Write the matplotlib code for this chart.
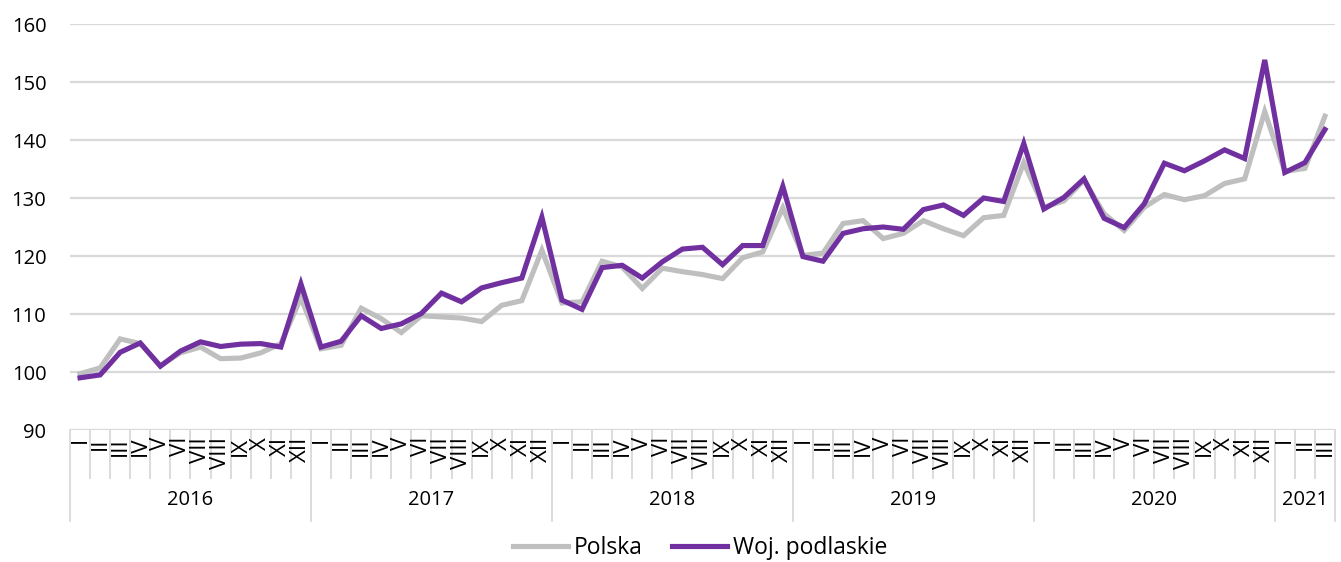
import matplotlib
matplotlib.use("Agg")
import matplotlib.pyplot as plt
import matplotlib.transforms as mtransforms

plt.rcParams['font.family'] = ['Open Sans', 'DejaVu Sans']

months = ["I", "II", "III", "IV", "V", "VI", "VII", "VIII", "IX", "X", "XI", "XII"]
years = ["2016", "2017", "2018", "2019", "2020", "2021"]
months_per_year = [12, 12, 12, 12, 12, 3]

polska = [
    99.7, 100.7, 105.7, 104.9, 101.1, 103.3, 104.3, 102.3, 102.4, 103.3, 104.9, 112.8,
    104.0, 104.6, 111.0, 109.2, 106.8, 109.7, 109.5, 109.3, 108.7, 111.5, 112.3, 121.0,
    111.9, 112.1, 119.1, 118.1, 114.4, 117.9, 117.3, 116.8, 116.1, 119.7, 120.7, 128.3,
    120.1, 120.5, 125.6, 126.1, 123.0, 123.9, 126.1, 124.7, 123.5, 126.6, 127.0, 136.1,
    128.4, 129.5, 133.1, 127.3, 124.4, 128.4, 130.6, 129.7, 130.4, 132.5, 133.3, 144.9,
    134.6, 135.1, 144.1,
]
podlaskie = [
    99.0, 99.5, 103.4, 105.0, 101.0, 103.6, 105.2, 104.4, 104.8, 104.9, 104.3, 115.2,
    104.3, 105.3, 109.7, 107.5, 108.3, 110.1, 113.6, 112.1, 114.5, 115.4, 116.2, 126.7,
    112.4, 110.8, 118.0, 118.4, 116.2, 119.0, 121.2, 121.5, 118.5, 121.8, 121.8, 132.0,
    119.9, 119.1, 123.9, 124.7, 125.0, 124.6, 128.0, 128.8, 127.0, 130.0, 129.4, 139.4,
    128.1, 130.1, 133.3, 126.5, 124.9, 129.0, 136.0, 134.7, 136.4, 138.3, 136.8, 153.8,
    134.4, 136.1, 141.8,
]

W, H = 1341, 562
fig = plt.figure(figsize=(W / 100, H / 100), dpi=100)
ax = fig.add_axes([70 / W, (H - 430) / H, 1265 / W, 406 / H])

n = len(polska)
x = list(range(n))
grid_c = "#d9d9d9"

ax.plot(x, polska, color="#bfbfbf", lw=3.7, solid_joinstyle="miter", label="Polska", zorder=3)
ax.plot(x, podlaskie, color="#7030a0", lw=3.7, solid_joinstyle="miter", label="Woj. podlaskie", zorder=4)

ax.set_xlim(-0.5, n - 0.5)
ax.set_ylim(90, 160)
ax.set_yticks(range(90, 161, 10))
for v in range(90, 161, 10):
    ax.axhline(v, color=grid_c, lw=1.6, zorder=1)
for s in ax.spines.values():
    s.set_visible(False)
ax.tick_params(axis="y", length=0, labelsize=14.5, pad=17, labelcolor="#000000")
ax.tick_params(axis="x", length=0, labelbottom=False)

trans = mtransforms.blended_transform_factory(ax.transData, ax.transAxes)
ax_h = 406.0
y_month_bottom = -(478 - 430) / ax_h
y_year_bottom = -(521 - 430) / ax_h

idx = 0
for yr, cnt in zip(years, months_per_year):
    start = idx
    for m in range(cnt):
        ax.text(idx, -7 / ax_h, months[m], transform=trans, rotation=90,
                ha="center", va="top", fontsize=16, clip_on=False)
        if m > 0:
            ax.plot([idx - 0.5, idx - 0.5], [0, y_month_bottom], transform=trans,
                    color=grid_c, lw=1.3, clip_on=False)
        idx += 1
    ax.plot([start - 0.5, start - 0.5], [0, y_year_bottom], transform=trans,
            color=grid_c, lw=1.3, clip_on=False)
    ax.text((start + idx - 1) / 2, -(500 - 430) / ax_h, yr, transform=trans,
            ha="center", va="center", fontsize=14.5, clip_on=False)
ax.plot([idx - 0.5, idx - 0.5], [0, y_year_bottom], transform=trans,
        color=grid_c, lw=1.3, clip_on=False)

fig.legend(loc="center", bbox_to_anchor=(700 / W, 1 - 548 / H), ncol=2, frameon=False,
           fontsize=16.5, handlelength=2.4, handletextpad=0.25, columnspacing=1.3)

fig.savefig("out.png", dpi=100)
